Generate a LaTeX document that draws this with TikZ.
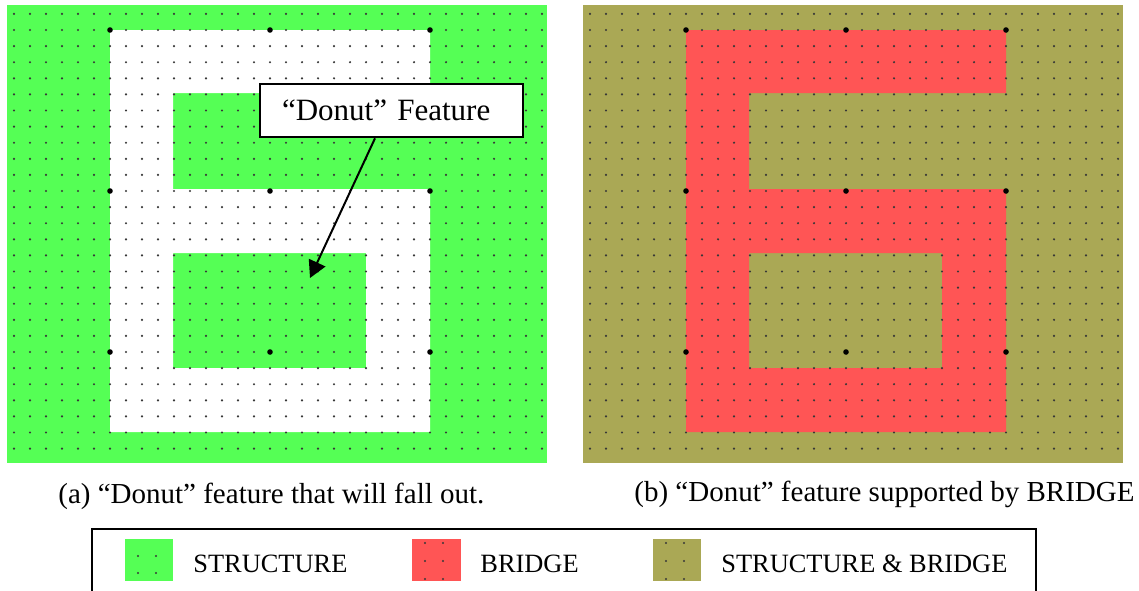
\documentclass[tikz,border=0pt]{standalone}
\usepackage{fontspec}
\setmainfont{Liberation Serif}
\usetikzlibrary{arrows.meta}
\definecolor{structc}{RGB}{85,255,85}
\definecolor{bridgec}{RGB}{255,85,85}
\definecolor{bothc}{RGB}{170,168,85}
\definecolor{dotc}{RGB}{56,56,56}

% the "6" shaped part, with its donut hole, in pixel units
\newcommand{\sixpath}{(110,30) -- (430,30) -- (430,93) -- (173,93) -- (173,189)
  -- (430,189) -- (430,432) -- (110,432) -- cycle (173,253) rectangle (366,368)}

% fine grid of dots plus the coarse grid marks, origin at the shape corner
\newcommand{\dotgrid}[1]{%
  \foreach \i in {-6,...,27}{
    \foreach \j in {-1,...,26}{
      \fill[dotc] (#1+16*\i,30+16.1*\j) circle[radius=0.6pt];
    }
  }
  \foreach \i in {0,10,20}{
    \foreach \j in {0,10,20}{
      \fill[black] (#1+16*\i,30+16.1*\j) circle[radius=1.4pt];
    }
  }
}

\begin{document}
\begin{tikzpicture}[x=0.5pt,y=-0.5pt,
  capt/.style={anchor=base west,inner sep=0pt,font=\fontsize{14.5pt}{17pt}\selectfont},
  legtext/.style={anchor=base west,inner sep=0pt,font=\fontsize{13.2pt}{16pt}\selectfont},
  callout/.style={draw,line width=1.3pt,fill=white,minimum width=131.5pt,
    minimum height=26.5pt,inner xsep=11pt,inner ysep=0pt,text width=109.5pt,
    align=left,font=\fontsize{15.5pt}{18pt}\selectfont},
  pointer/.style={line width=1pt,-{Triangle[length=8.5pt,width=9pt]}},
  swatchdot/.style={fill=dotc}]
\useasboundingbox (0,0) rectangle (1139,590);

% (a) layer: STRUCTURE with the white part
\fill[structc] (7,5) rectangle (547,463);
\fill[white,even odd rule] \sixpath;
\dotgrid{110}

% (b) layer: STRUCTURE & BRIDGE with the BRIDGE part
\fill[bothc] (583,5) rectangle (1123,463);
\begin{scope}[shift={(576,0)}]
  \fill[bridgec,even odd rule] \sixpath;
\end{scope}
\dotgrid{686}

% callout for the donut
\node[callout] (lbl) at (391.5,110.5) {“Donut” Feature};
\coordinate (tip) at (310,278);
\draw[pointer] ([xshift=-8.25pt]lbl.south) -- (tip);

% captions
\node[capt] (capa) at (58,503) {(a) “Donut” feature that will fall out.};
\node[capt] (capb) at (634,501) {(b) “Donut” feature supported by BRIDGE};

% legend
\draw[line width=1.4pt] (92,600) -- (92,529) -- (1036,529) -- (1036,600);
\fill[structc] (125,539) rectangle (173,581);
\foreach \x in {138,156}{\foreach \y in {556,573}{\fill[swatchdot] (\x,\y) circle[radius=0.55pt];}}
\node[legtext] (ls) at (193,572) {STRUCTURE};
\fill[bridgec] (412,539) rectangle (461,581);
\foreach \x in {425,443}{\foreach \y in {543,561,579}{\fill[swatchdot] (\x,\y) circle[radius=0.55pt];}}
\node[legtext] (lb) at (480,572) {BRIDGE};
\fill[bothc] (653,539) rectangle (701,581);
\foreach \x in {666,684}{\foreach \y in {543,561,579}{\fill[swatchdot] (\x,\y) circle[radius=0.55pt];}}
\node[legtext] (lsb) at (721,572) {STRUCTURE \& BRIDGE};
\end{tikzpicture}
\end{document}
